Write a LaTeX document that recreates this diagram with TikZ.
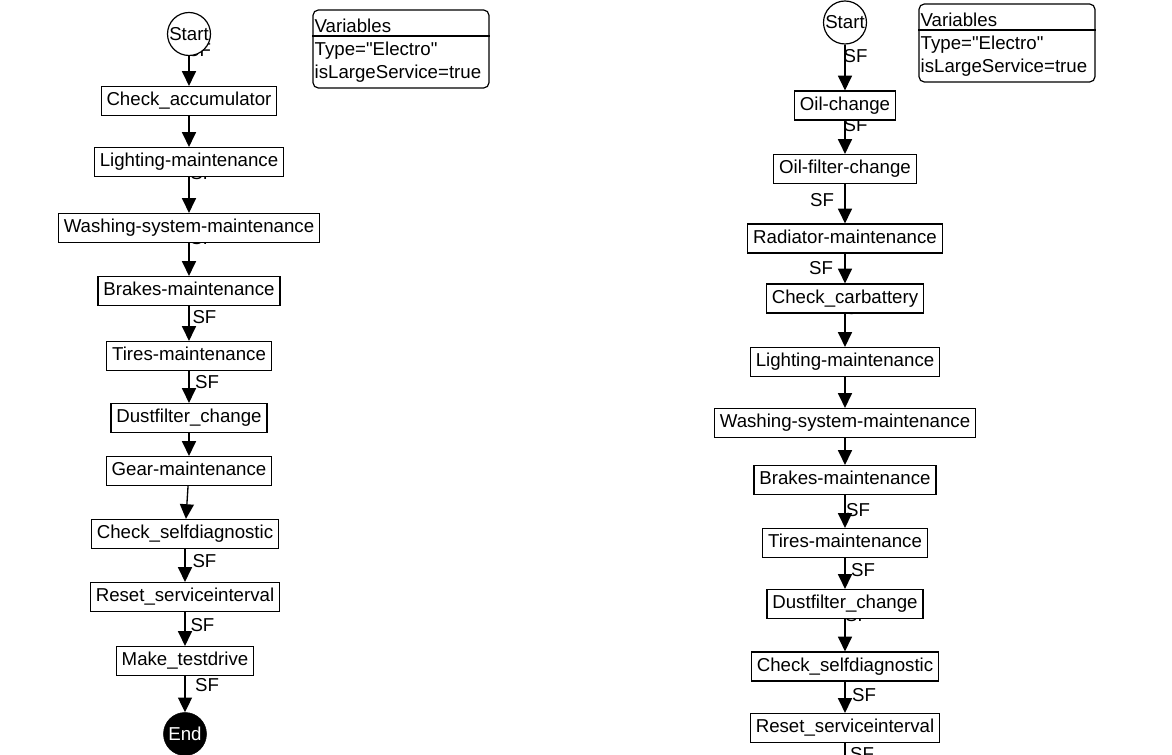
\documentclass[tikz,border=0pt]{standalone}
\usepackage{fontspec}
\setmainfont{Liberation Sans}
\usetikzlibrary{arrows.meta,backgrounds}

\begin{document}
\begin{tikzpicture}[
    x=0.75pt, y=-0.75pt,
    font=\fontsize{14}{18}\selectfont,
    task/.style={rectangle, draw, fill=white, line width=0.9pt, minimum height=21.75pt,
        text height=10pt, text depth=3pt, inner xsep=4pt, inner ysep=0pt},
    startnode/.style={circle, draw, fill=white, line width=0.9pt, minimum size=32.25pt, inner sep=0pt},
    endnode/.style={circle, draw, fill=black, text=white, minimum size=32.25pt, inner sep=0pt},
    varbox/.style={rectangle, draw, fill=white, rounded corners=4pt, line width=0.9pt,
        minimum width=132pt, minimum height=58.5pt},
    vartext/.style={anchor=base west, inner sep=0pt},
    flow/.style={-{Triangle[width=10.5pt,length=11pt]}, line width=1pt},
    sf/.style={inner sep=0pt}
]
\useasboundingbox (0,0) rectangle (1172,755);

% Left flow: electro, large service
\node[startnode] (start_l) at (189, 34) {Start};
\node[task] (chk_acc) at (189, 101) {Check\_accumulator};
\node[task] (light_l) at (189, 162) {Lighting-maintenance};
\node[task] (wash_l) at (189, 228) {Washing-system-maintenance};
\node[task] (brake_l) at (189, 291) {Brakes-maintenance};
\node[task] (tire_l) at (189, 356) {Tires-maintenance};
\node[task] (dust_l) at (189, 418) {Dustfilter\_change};
\node[task] (gear_l) at (189, 471) {Gear-maintenance};
\node[task] (self_l) at (185, 534) {Check\_selfdiagnostic};
\node[task] (reset_l) at (185, 597) {Reset\_serviceinterval};
\node[task] (drive_l) at (185, 661) {Make\_testdrive};
\node[endnode] (end_l) at (185, 734) {End};

% Left variables box
\node[varbox] (vars_l) at (401, 49) {};
\draw[line width=1.4pt] ([yshift=-20.25pt]vars_l.north west) -- ([yshift=-20.25pt]vars_l.north east);
\node[vartext] (vl_head) at ([xshift=1.5pt, yshift=-17.25pt]vars_l.north west) {Variables};
\node[vartext] (vl_type) at ([xshift=1.5pt, yshift=-34.5pt]vars_l.north west) {Type=\textquotedbl Electro\textquotedbl};
\node[vartext] (vl_large) at ([xshift=1.5pt, yshift=-51.75pt]vars_l.north west) {isLargeService=true};

% Right flow: same variables, longer task list
\node[startnode] (start_r) at (845, 22.5) {Start};
\node[task] (oil) at (845, 105.5) {Oil-change};
\node[task] (oilf) at (845, 169) {Oil-filter-change};
\node[task] (rad) at (845, 238.5) {Radiator-maintenance};
\node[task] (carb) at (845, 298.5) {Check\_carbattery};
\node[task] (light_r) at (845, 362) {Lighting-maintenance};
\node[task] (wash_r) at (845, 423) {Washing-system-maintenance};
\node[task] (brake_r) at (845, 480) {Brakes-maintenance};
\node[task] (tire_r) at (845, 543) {Tires-maintenance};
\node[task] (dust_r) at (845, 604) {Dustfilter\_change};
\node[task] (self_r) at (845, 666.5) {Check\_selfdiagnostic};
\node[task] (reset_r) at (845, 728) {Reset\_serviceinterval};
\coordinate (next_r) at (845, 760);

% Right variables box
\node[varbox] (vars_r) at (1007, 43) {};
\draw[line width=1.4pt] ([yshift=-20.25pt]vars_r.north west) -- ([yshift=-20.25pt]vars_r.north east);
\node[vartext] (vr_head) at ([xshift=1.5pt, yshift=-17.25pt]vars_r.north west) {Variables};
\node[vartext] (vr_type) at ([xshift=1.5pt, yshift=-34.5pt]vars_r.north west) {Type=\textquotedbl Electro\textquotedbl};
\node[vartext] (vr_large) at ([xshift=1.5pt, yshift=-51.75pt]vars_r.north west) {isLargeService=true};

% Connectors behind the boxes (some SF labels are hidden by them)
\begin{scope}[on background layer]
\draw[flow] (start_l) -- (chk_acc) node[sf, pos=-0.21, xshift=7.5pt] {SF};
\draw[flow] (chk_acc) -- (light_l);
\draw[flow] (light_l) -- (wash_l) node[sf, pos=-0.12, xshift=10pt] {SF};
\draw[flow] (wash_l) -- (brake_l) node[sf, pos=-0.165, xshift=10pt] {SF};
\draw[flow] (brake_l) -- (tire_l) node[sf, pos=0.31, xshift=11.6pt] {SF};
\draw[flow] (tire_l) -- (dust_l) node[sf, pos=0.36, xshift=13.5pt] {SF};
\draw[flow] (dust_l) -- (gear_l);
\draw[flow] (gear_l) -- (self_l);
\draw[flow] (self_l) -- (reset_l) node[sf, pos=0.38, xshift=14.6pt] {SF};
\draw[flow] (reset_l) -- (drive_l) node[sf, pos=0.39, xshift=13.1pt] {SF};
\draw[flow] (drive_l) -- (end_l) node[sf, pos=0.25, xshift=16.5pt] {SF};

\draw[flow] (start_r) -- (oil) node[sf, pos=0.245, xshift=8pt] {SF};
\draw[flow] (oil) -- (oilf) node[sf, pos=0.13, xshift=8pt] {SF};
\draw[flow] (oilf) -- (rad) node[sf, pos=0.4, xshift=-17.25pt] {SF};
\draw[flow] (rad) -- (carb) node[sf, pos=0.5, xshift=-18pt] {SF};
\draw[flow] (carb) -- (light_r) node[sf, pos=-0.175, xshift=9pt] {SF};
\draw[flow] (light_r) -- (wash_r);
\draw[flow] (wash_r) -- (brake_r);
\draw[flow] (brake_r) -- (tire_r) node[sf, pos=0.46, xshift=9.75pt] {SF};
\draw[flow] (tire_r) -- (dust_r) node[sf, pos=0.39, xshift=13.5pt] {SF};
\draw[flow] (dust_r) -- (self_r) node[sf, pos=-0.135, xshift=9pt] {SF};
\draw[flow] (self_r) -- (reset_r) node[sf, pos=0.43, xshift=14.25pt] {SF};
\draw[line width=1pt] (reset_r) -- (next_r) node[sf, pos=0.66, xshift=12.75pt] {SF};
\end{scope}

\end{tikzpicture}
\end{document}
